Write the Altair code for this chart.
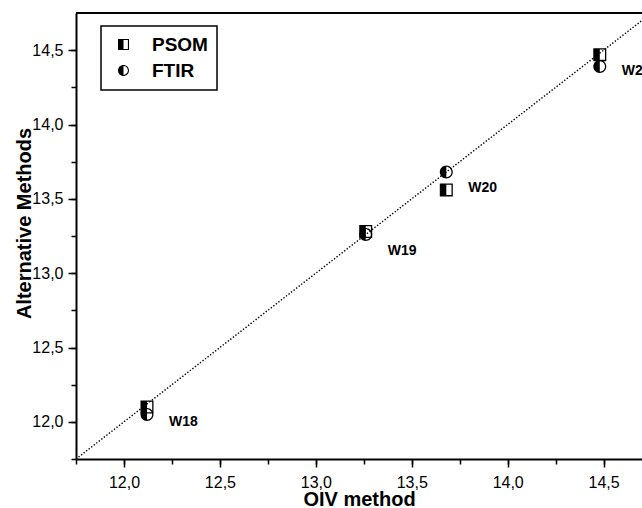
import altair as alt
import pandas as pd

# ---- data ----
samples = ["W18", "W19", "W20", "W21"]
oiv = [12.12, 13.26, 13.68, 14.48]
psom = [12.10, 13.28, 13.56, 14.47]
ftir = [12.05, 13.26, 13.68, 14.39]
label_y = [12.00, 13.15, 13.57, 14.36]
series = ["PSOM", "FTIR"]
major_ticks = [12.0, 12.5, 13.0, 13.5, 14.0, 14.5]
minor_ticks = [11.75, 12.0, 12.25, 12.5, 12.75, 13.0, 13.25, 13.5, 13.75,
               14.0, 14.25, 14.5]
x_domain = [11.75, 14.70]
y_domain = [11.75, 14.75]
diag = [11.75, 14.75]

FONT = "Liberation Sans"

# half-filled shapes drawn purely by fill: outer shape minus a right-half hole
SQUARE = "M-1,-1L1,-1L1,1L-1,1Z M0,-0.8L0,0.8L0.8,0.8L0.8,-0.8Z"
CIRCLE = ("M0,-1A1,1,0,0,1,0,1A1,1,0,0,1,0,-1Z "
          "M0,-0.8L0,0.8A0.8,0.8,0,0,0,0,-0.8Z")

rows = []
for s, xv, p, f in zip(samples, oiv, psom, ftir):
    rows.append({"sample": s, "oiv": xv, "method": "PSOM", "value": p})
    rows.append({"sample": s, "oiv": xv, "method": "FTIR", "value": f})
points_df = pd.DataFrame(rows)
labels_df = pd.DataFrame({"sample": samples, "oiv": oiv, "ly": label_y})
diag_df = pd.DataFrame({"a": diag, "b": diag})
top_df = pd.DataFrame({"top": [y_domain[1]]})

LABEL_EXPR = "replace(format(datum.value, '.1f'), '.', ',')"

x_major = alt.Axis(values=major_ticks, labelExpr=LABEL_EXPR, tickSize=8,
                   labelPadding=7, labelOverlap=False, title="OIV method",
                   titleY=46, titleBaseline="alphabetic", orient="bottom")
y_major = alt.Axis(values=major_ticks, labelExpr=LABEL_EXPR, tickSize=8,
                   labelPadding=5, labelOverlap=False, title="Alternative Methods",
                   titleX=-46, titleY=210, titleBaseline="alphabetic",
                   titleAlign="center", titleAngle=270, orient="left")
x_minor = alt.Axis(values=minor_ticks, tickSize=5, labels=False, domain=False,
                   title=None, orient="bottom")
y_minor = alt.Axis(values=minor_ticks, tickSize=5, labels=False, domain=False,
                   title=None, orient="left")

xs = alt.Scale(domain=x_domain, nice=False, zero=False)
ys = alt.Scale(domain=y_domain, nice=False, zero=False)

line = alt.Chart(diag_df).mark_line(
    clip=True, color="black", strokeWidth=1.4, strokeDash=[1.4, 1.8]
).encode(
    x=alt.X("a:Q", scale=xs, axis=x_minor),
    y=alt.Y("b:Q", scale=ys, axis=y_minor),
)

top = alt.Chart(top_df).mark_rule(color="black", strokeWidth=2).encode(
    y=alt.Y("top:Q", scale=ys, axis=None),
)

pts = alt.Chart(points_df).mark_point(
    filled=True, color="black", strokeWidth=0, opacity=1, size=169
).encode(
    x=alt.X("oiv:Q", scale=xs, axis=x_major),
    y=alt.Y("value:Q", scale=ys, axis=y_major),
    shape=alt.Shape(
        "method:N",
        scale=alt.Scale(domain=series, range=[SQUARE, CIRCLE]),
        legend=alt.Legend(
            title=None, orient="none", legendX=25, legendY=13,
            padding=9, rowPadding=6, symbolOffset=4, labelOffset=19,
            symbolSize=121, symbolStrokeWidth=0,
            symbolFillColor="black",
            labelFont=FONT, labelFontSize=19, labelFontWeight="bold",
            labelColor="black", strokeColor="black", fillColor="white",
        ),
    ),
)

txt = alt.Chart(labels_df).mark_text(
    align="left", baseline="middle", dx=22, font=FONT, fontSize=14,
    fontWeight="bold", color="black"
).encode(
    x=alt.X("oiv:Q", scale=xs, axis=None),
    y=alt.Y("ly:Q", scale=ys, axis=None),
    text="sample:N",
)

chart = alt.layer(line, top, pts, txt).resolve_axis(
    x="independent", y="independent"
).properties(
    width=566, height=446,
    autosize=alt.AutoSizeParams(type="none"),
    padding={"left": 76, "top": 13, "right": 0, "bottom": 49},
).configure_view(
    stroke=None
).configure_axis(
    grid=False,
    labelFont=FONT, labelFontSize=16, labelColor="black",
    titleFont=FONT, titleFontSize=20, titleFontWeight="bold", titleColor="black",
    domainColor="black", domainWidth=2, tickColor="black", tickWidth=1.5,
).configure_legend(
    strokeWidth=1.5
)

chart.save("out.html", embed_options={"renderer": "svg", "actions": False})
